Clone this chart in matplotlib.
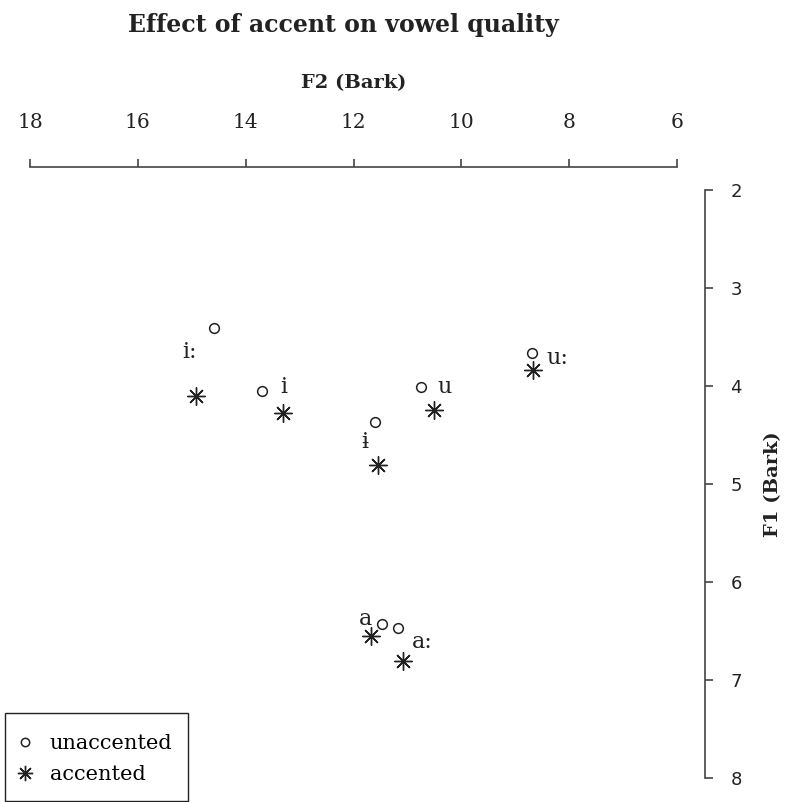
import matplotlib
matplotlib.use("Agg")
import matplotlib.pyplot as plt
from matplotlib.lines import Line2D
from matplotlib.patches import Rectangle

# vowel categories and formant values (Bark)
vowels = ["i:", "i", "ɨ", "u", "u:", "a", "a:"]
f2_unacc = [14.59, 13.70, 11.60, 10.75, 8.69, 11.47, 11.17]
f1_unacc = [3.41, 4.05, 4.37, 4.01, 3.66, 6.43, 6.47]
f2_acc = [14.92, 13.31, 11.55, 10.50, 8.67, 11.67, 11.08]
f1_acc = [4.10, 4.28, 4.81, 4.24, 3.84, 6.55, 6.81]
x_ticks = [18, 16, 14, 12, 10, 8, 6]
y_ticks = [2, 3, 4, 5, 6, 7, 8]

# label offsets from the unaccented point, in pixels
label_dx = [-24, 22, -10, 24, 25, -17, 24]
label_dy = [-24, 4, -20, 0, -5, 5, -14]

SERIF = "DejaVu Serif"
INK = "#222222"
W, H = 806, 802

fig = plt.figure(figsize=(8.06, 8.02), dpi=100)
ax = fig.add_axes([30 / W, 1 - 778 / H, 647 / W, 588 / H])

ax.plot(f2_unacc, f1_unacc, ls="none", marker="o", ms=7, mfc="none",
        mec=INK, mew=1.1)
ax.plot(f2_acc, f1_acc, ls="none", marker=(8, 2, 0), ms=13, mec=INK,
        mew=1.0)

for v, x, y, dx, dy in zip(vowels, f2_unacc, f1_unacc, label_dx, label_dy):
    ax.annotate(v, (x, y), xytext=(dx, dy), textcoords="offset pixels",
                ha="center", va="center", fontsize=16, family=SERIF,
                color=INK)

ax.set_xlim(18, 6)
ax.set_ylim(8, 2)
ax.set_xticks(x_ticks)
ax.set_yticks(y_ticks)

for s in ["left", "bottom"]:
    ax.spines[s].set_visible(False)
ax.spines["top"].set_position(("outward", 16.5))
ax.spines["right"].set_position(("outward", 20))
ax.spines["top"].set_bounds(18, 6)
ax.spines["right"].set_bounds(2, 8)
for s in ["top", "right"]:
    ax.spines[s].set_color("#444444")
    ax.spines[s].set_linewidth(1.2)

ax.xaxis.tick_top()
ax.yaxis.tick_right()
ax.tick_params(axis="both", colors="#444444", length=5.5, width=1.2)
ax.tick_params(axis="x", labelcolor=INK, pad=20)
ax.tick_params(axis="y", labelcolor=INK, pad=13)
for lab in ax.get_xticklabels():
    lab.set_family(SERIF)
    lab.set_fontsize(14.5)
for lab in ax.get_yticklabels():
    lab.set_family("DejaVu Sans")
    lab.set_fontsize(13)

ax.set_xlabel("F2 (Bark)", family=SERIF, fontsize=14, fontweight="bold",
              labelpad=18, color=INK)
ax.xaxis.set_label_position("top")
ax.set_ylabel("F1 (Bark)", family=SERIF, fontsize=14, fontweight="bold",
              labelpad=16, color=INK)
ax.yaxis.set_label_position("right")

fig.text(343 / W, 1 - 25 / H, "Effect of accent on vowel quality",
         ha="center", va="center", family=SERIF, fontsize=17,
         fontweight="bold", color=INK)

# legend: frame drawn separately so the padding can be uneven
handles = [
    Line2D([], [], ls="none", marker="o", ms=6, mfc="none", mec=INK, mew=1.1),
    Line2D([], [], ls="none", marker=(8, 2, 0), ms=11, mec=INK, mew=1.0),
]
fig.legend(handles, ["unaccented", "accented"], loc="upper left",
           bbox_to_anchor=(14.5 / W, 1 - 734 / H), borderaxespad=0,
           borderpad=0, frameon=False,
           prop={"family": SERIF, "size": 15},
           handlelength=1.0, handletextpad=0.7, labelspacing=0.6)
fig.patches.append(Rectangle((5 / W, 1 / H), 183 / W, 88 / H,
                             transform=fig.transFigure, fill=False,
                             ec=INK, lw=1.0))

fig.savefig("out.png", dpi=100)
